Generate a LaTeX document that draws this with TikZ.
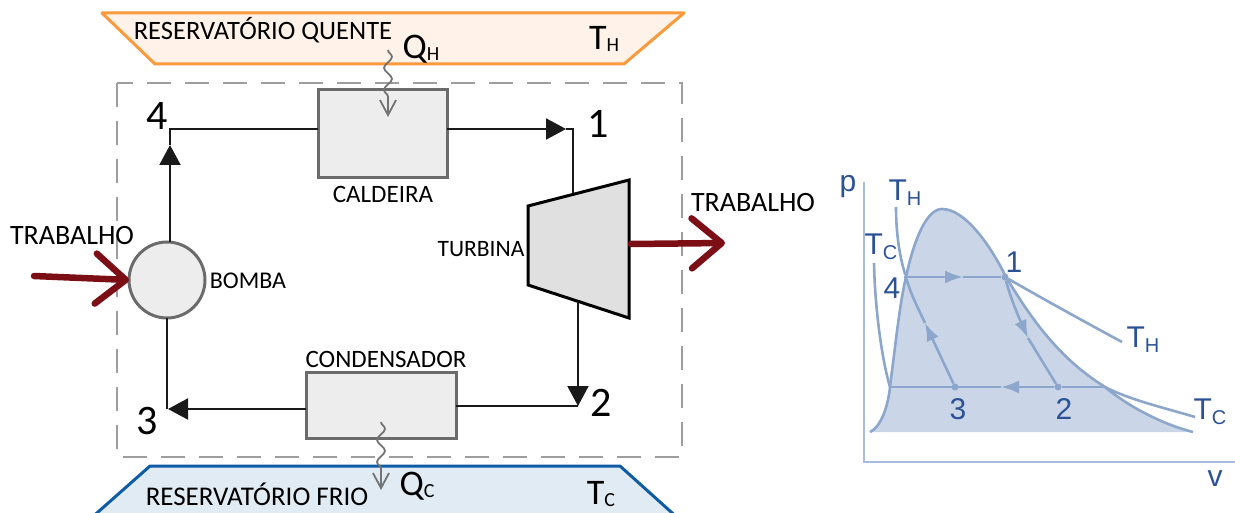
\documentclass[tikz,border=0pt]{standalone}
\usepackage{fontspec}
\usepackage{tikz}
\usetikzlibrary{arrows.meta}
\usetikzlibrary{decorations.pathmorphing}
\setmainfont{Carlito}
\newfontfamily\plotfont{Liberation Sans}
\definecolor{hotline}{HTML}{FB9A3C}
\definecolor{hotfill}{HTML}{FFF2E8}
\definecolor{coldline}{HTML}{0F5CA6}
\definecolor{coldfill}{HTML}{E0EBF3}
\definecolor{workred}{HTML}{7C0F16}
\definecolor{plotblue}{HTML}{2B5197}
\definecolor{plotline}{HTML}{8CA6CC}
\definecolor{plotfill}{HTML}{CAD6E8}
\newcommand{\sketchsub}[2]{#1\raisebox{-2pt}{\fontsize{20}{20}\selectfont #2}}
\newcommand{\plotsub}[2]{#1\raisebox{-5pt}{\fontsize{20}{20}\selectfont #2}}
\newcommand{\domepath}{(870,432) .. controls (884,425) and (889,398) .. (890,387) .. controls (896,340) and (900,302) .. (906,277) .. controls (915,235) and (928,209) .. (942,209) .. controls (965,209) and (990,245) .. (1005,275) .. controls (1040,335) and (1070,365) .. (1105,387) .. controls (1130,408) and (1165,425) .. (1193,432)}
\tikzset{
  label/.style={inner sep=0pt,font=\fontsize{25}{25}\selectfont},
  widelabel/.style={inner sep=0pt,font=\fontsize{28}{28}\selectfont},
  symbol/.style={inner sep=0pt,font=\fontsize{36}{36}\selectfont},
  number/.style={inner sep=0pt,font=\fontsize{42}{42}\selectfont},
  hxbox/.style={draw=black!58,line width=3pt,fill=black!7,inner sep=0pt,outer sep=0pt},
  pipe/.style={line width=2pt,black!90},
  flow/.style={pipe,-{Triangle[length=20pt,width=21pt]}},
  work/.style={line width=6.5pt,workred,line cap=round,-{Straight Barb[length=30pt,width=50pt,round]}},
  heat/.style={line width=1.8pt,black!55,-{Straight Barb[length=15pt,width=16pt]},decorate,decoration={snake,amplitude=4pt,segment length=22pt,post length=14pt}},
  plottext/.style={inner sep=0pt,text=plotblue,font=\plotfont\fontsize{30}{30}\selectfont},
  curve/.style={line width=2.6pt,plotline},
  tip/.style={curve,-{Latex[length=18pt,width=13pt]}},
  spot/.style={circle,fill=plotline,inner sep=2.5pt}
}
\begin{document}
\begin{tikzpicture}[x=1pt,y=-1pt] % ciclo de Rankine e diagrama p-v
  \useasboundingbox (0,0) rectangle (1235,513);
  % reservatorios
  \draw[hotline,fill=hotfill,line width=3pt,line join=round] (102,13) -- (684,13) -- (624,64) -- (155,64) -- cycle;
  \begin{scope}
    \clip (0,0) rectangle (1235,513);
    \draw[coldline,fill=coldfill,line width=3pt,line join=round] (89,520) -- (150,466) -- (620,466) -- (680,520);
  \end{scope}
  \draw[black!38,line width=1.6pt,dash pattern=on 24pt off 14pt] (117,83) rectangle (682,457);
  \node[label,anchor=base,font=\fontsize{26.5}{26.5}\selectfont] (quente) at (263,40) {RESERVATÓRIO QUENTE};
  \node[label,anchor=base,font=\fontsize{27}{27}\selectfont] (frio) at (257,505) {RESERVATÓRIO FRIO};
  \node[symbol] (qh) at (421,49) {\sketchsub{Q}{H}};
  \node[symbol] (qc) at (417,486) {\sketchsub{Q}{C}};
  \node[symbol] (th) at (604,39) {\sketchsub{T}{H}};
  \node[symbol] (tc) at (601,494) {\sketchsub{T}{C}};
  % componentes
  \node[hxbox,minimum width=129pt,minimum height=88pt] (caldeira) at (382.5,134) {};
  \node[hxbox,minimum width=150pt,minimum height=66pt] (condensador) at (381,405) {};
  \node[hxbox,circle,minimum size=76pt] (bomba) at (167,280) {};
  \draw[black,fill=black!12,line width=3pt,line join=miter] (528,206) coordinate (t1) -- (629,180) coordinate (t2) -- (629,318) coordinate (t3) -- (528,285) coordinate (t4) -- cycle;
  \node[label] (caldeiratxt) at (383,194) {CALDEIRA};
  \node[label] (condensadortxt) at (386,359) {CONDENSADOR};
  \node[label,font=\fontsize{24}{24}\selectfont] (bombatxt) at (248,281) {BOMBA};
  \node[label,font=\fontsize{23.5}{23.5}\selectfont] (turbinatxt) at (481,249) {TURBINA};
  \node[widelabel] (trabin) at (72,236) {TRABALHO};
  \node[widelabel] (trabout) at (753,203) {TRABALHO};
  \node[number] (n4) at (157,116) {4};
  \node[number] (n1) at (598,124) {1};
  \node[number] (n2) at (601,403) {2};
  \node[number] (n3) at (147,421) {3};
  % tubulacao
  \coordinate (c4) at (170,129);
  \coordinate (c1) at (573,129);
  \coordinate (c2) at (578,406);
  \coordinate (c3) at (167,409);
  \coordinate (s4) at (170,145);
  \coordinate (s1) at (566,129);
  \coordinate (s2) at (578,406);
  \coordinate (s3) at (168,409);
  \coordinate (tin) at (573,193);
  \coordinate (tout) at (578,303);
  \draw[flow] (170,242) -- (s4);
  \draw[pipe] (s4) -- (c4) -- (caldeira.west |- c4);
  \draw[flow] (caldeira.east |- c1) -- (s1);
  \draw[pipe] (s1) -- (c1) -- (tin);
  \draw[flow] (tout) -- (s2);
  \draw[pipe] (condensador.east |- c2) -- (c2);
  \draw[flow] (condensador.west |- c3) -- (s3);
  \draw[pipe] (c3) -- (bomba.south);
  % trabalho e calor
  \coordinate (wa) at (34,276);
  \coordinate (wb) at (631,244);
  \coordinate (wc) at (725,243);
  \draw[work] (wa) -- (bomba.west);
  \draw[work] (wb) -- (wc);
  \coordinate (qa) at (388,50);
  \coordinate (qb) at (388,117);
  \coordinate (qd) at (381,422);
  \coordinate (qe) at (381,490);
  \draw[heat] (qa) -- (qb);
  \draw[heat] (qd) -- (qe);
  % diagrama p-v
  \fill[plotfill] \domepath -- cycle;
  \draw[curve] \domepath;
  \coordinate (o) at (864,462);
  \coordinate (ptop) at (864,182);
  \coordinate (vend) at (1235,462);
  \draw[curve,plotline!75!white] (ptop) -- (o) -- (vend);
  \node[spot] (p1) at (1005,277) {};
  \node[spot] (p2) at (1058,387) {};
  \node[spot] (p3) at (955,387) {};
  \node[spot,inner sep=1.5pt] (p4) at (906,277) {};
  \coordinate (q1) at (1105,387);
  \coordinate (q4) at (890,387);
  \coordinate (a1) at (963,277);
  \coordinate (a2) at (1028,338);
  \coordinate (a3) at (1001,387);
  \coordinate (a4) at (925,323);
  \coordinate (thtop) at (896,207);
  \coordinate (tctop) at (874,263);
  \coordinate (thend) at (1122,342);
  \coordinate (tcend) at (1195,417);
  \draw[tip] (p4) -- (a1);
  \draw[curve] (a1) -- (p1);
  \draw[tip] (p1) .. controls (1011,300) and (1020,320) .. (a2);
  \draw[curve] (a2) -- (p2);
  \draw[tip] (p2) -- (a3);
  \draw[curve] (a3) -- (q4);
  \draw[curve] (p2) -- (q1);
  \draw[tip] (p3) -- (a4);
  \draw[curve] (a4) .. controls (918,308) and (911,295) .. (p4);
  \draw[curve] (p4) .. controls (900,258) and (896,235) .. (thtop);
  \draw[curve] (tctop) .. controls (875,310) and (882,360) .. (q4);
  \draw[curve] (p1) .. controls (1045,300) and (1085,322) .. (thend);
  \draw[curve] (q1) .. controls (1130,400) and (1165,408) .. (tcend);
  \node[plottext] (p) at (848,187) {p};
  \node[plottext] (v) at (1215,479) {v};
  \node[plottext] (thtl) at (905,193) {\plotsub{T}{H}};
  \node[plottext] (tctl) at (881,247) {\plotsub{T}{C}};
  \node[plottext] (thtr) at (1143,340) {\plotsub{T}{H}};
  \node[plottext] (tctr) at (1210,412) {\plotsub{T}{C}};
  \node[plottext] (num1) at (1014,262) {1};
  \node[plottext] (num2) at (1064,409) {2};
  \node[plottext] (num3) at (958,409) {3};
  \node[plottext] (num4) at (892,288) {4};
\end{tikzpicture}
\end{document}
